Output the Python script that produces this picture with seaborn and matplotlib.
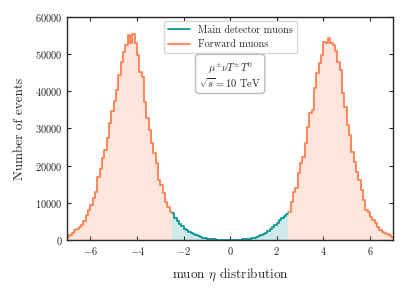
import matplotlib
matplotlib.use("Agg")
import matplotlib.pyplot as plt
import seaborn as sns
import pandas as pd
import numpy as np

# ===== BIN COUNTS (bin width 0.1) =====
fwd_left = [900, 1300, 1800, 2700, 2900, 3600, 4000, 5200, 6700, 8100,
            9400, 11200, 13000, 17000, 19000, 22000, 24200, 27400, 31500, 34600,
            37300, 40400, 44400, 47800, 50500, 52500, 55200, 53100, 55400, 53000,
            49800, 45300, 43900, 37200, 32800, 29600, 26000, 23400, 20700, 16100,
            14800, 12600, 10200, 8900, 7500]
fwd_right = [7600, 10300, 13000, 14000, 18000, 20700, 22400, 26000, 30500, 34100,
             35000, 40900, 44900, 47600, 49800, 53300, 53000, 54300, 53000, 52400,
             50700, 48000, 45700, 39500, 35900, 30900, 28200, 23700, 21000, 18400,
             16100, 13400, 10800, 8100, 7500, 6300, 5400, 4500, 3600, 2700,
             2200, 1800, 1600, 1300, 900]
main_counts = [7200, 6000, 5000, 4200, 3700, 3100, 2700, 2300, 1900, 1500,
               1300, 1000, 800, 650, 500, 380, 300, 230, 180, 150,
               120, 100, 90, 80, 80,
               80, 90, 100, 120, 150, 190, 240, 310, 400, 520,
               680, 850, 1100, 1350, 1700, 2000, 2500, 2900, 3400, 4000,
               4600, 5300, 6000, 6600, 7100]

range_fl = (-7.0, -2.5)
range_fr = (2.5, 7.0)
range_m = (-2.5, 2.5)

sns.set_style("ticks")
plt.rcParams["font.family"] = ["cmr10", "DejaVu Serif"]
plt.rcParams["mathtext.fontset"] = "cm"
plt.rcParams["axes.formatter.use_mathtext"] = True
plt.rcParams["xtick.direction"] = "in"
plt.rcParams["ytick.direction"] = "in"
plt.rcParams["xtick.top"] = True
plt.rcParams["ytick.right"] = True

teal = "#0e9595"
coral = "#ff7f50"


def bins_df(rng, counts):
    edges = np.linspace(rng[0], rng[1], len(counts) + 1)
    return pd.DataFrame({"eta": (edges[:-1] + edges[1:]) / 2, "n": counts})


fig = plt.figure(figsize=(4.07, 2.91), dpi=100)
ax = fig.add_axes([0.165, 0.175, 0.801, 0.767])

sets = [(range_m, main_counts, teal), (range_fl, fwd_left, coral),
        (range_fr, fwd_right, coral)]
for rng, c, col in sets:
    sns.histplot(data=bins_df(rng, c), x="eta", weights="n", bins=len(c),
                 binrange=rng, element="step", fill=True, color=col,
                 alpha=0.2, linewidth=0, ax=ax)
# step outlines on top
for rng, c, col in sets:
    sns.histplot(data=bins_df(rng, c), x="eta", weights="n", bins=len(c),
                 binrange=rng, element="step", fill=False, color=col,
                 linewidth=1.3, ax=ax)

ax.plot([], [], color=teal, lw=1.3, label="Main detector muons")
ax.plot([], [], color=coral, lw=1.3, label="Forward muons")
ax.legend(loc="upper center", fontsize=7.3, frameon=True, handlelength=2.2,
          borderaxespad=0.4)

ax.text(0, 0.74, r"$\mu^{\pm}\nu T^{\pm}T^{0}$" + "\n" + r"$\sqrt{s}=10$ TeV",
        transform=ax.get_xaxis_transform(), ha="center", va="center",
        fontsize=7.5, linespacing=1.05,
        bbox=dict(boxstyle="round,pad=0.35", fc="white", ec="#bbbbbb"))

ax.set_xlim(-7, 7)
ax.set_ylim(0, 60000)
ax.set_xticks([-6, -4, -2, 0, 2, 4, 6])
ax.set_yticks(np.arange(0, 60001, 10000))
ax.tick_params(labelsize=7.5, length=3, width=0.8)
for s in ax.spines.values():
    s.set_linewidth(1.0)
ax.set_xlabel(r"muon $\eta$ distribution", fontsize=9.5, labelpad=7)
ax.set_ylabel("Number of events", fontsize=9.5, labelpad=6)

fig.savefig("out.png", dpi=100)
